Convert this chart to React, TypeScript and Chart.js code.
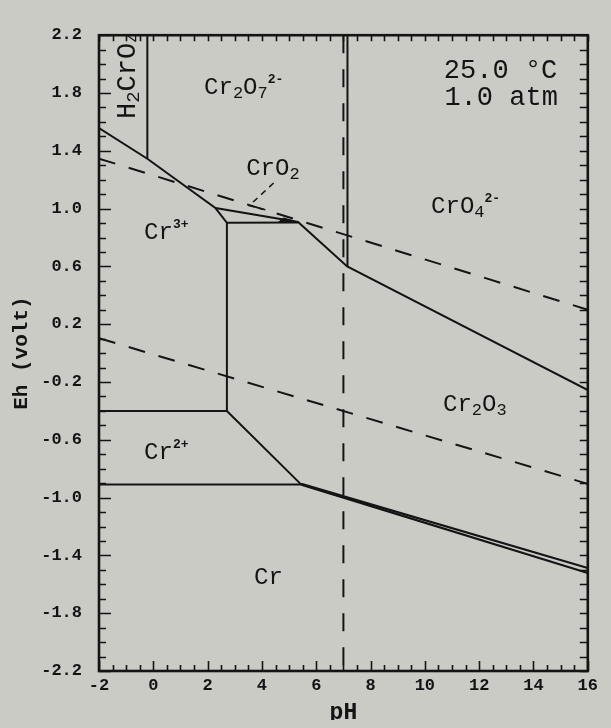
import React, { useEffect, useRef } from "react";
import { Chart, registerables } from "chart.js";

Chart.register(...registerables);

// ---------- axis ranges ----------
const PH_MIN = -2;
const PH_MAX = 16;
const PH_STEP = 2;
const EH_MIN = -2.2;
const EH_MAX = 2.2;
const EH_STEP = 0.4;

// ---------- solid stability boundaries [pH, Eh] ----------
const cr3UpperBoundary = [[-2, 1.557], [-0.22, 1.345], [2.29, 1.004], [5.33, 0.907], [7.14, 0.6], [16, -0.256]];
const h2cro4Boundary = [[-0.22, 2.2], [-0.22, 1.345]];
const cro4Boundary = [[7.15, 2.2], [7.15, 0.6]];
const cro2LowerBoundary = [[2.29, 1.004], [2.71, 0.902], [5.33, 0.904]];
const cro2Wedge = [[4.6, 0.905], [4.8, 0.935], [5.33, 0.906]];
const cr3Cr2o3Boundary = [[2.71, 0.902], [2.71, -0.401]];
const cr2UpperBoundary = [[-2, -0.401], [2.71, -0.401], [5.45, -0.91]];
const crUpperBoundary = [[-2, -0.91], [5.45, -0.91]];
const crCr2o3BoundaryA = [[5.45, -0.905], [16, -1.487]];
const crCr2o3BoundaryB = [[5.45, -0.91], [16, -1.522]];

// ---------- dashed lines [pH, Eh] ----------
const waterOxidation = [[-2, 1.346], [16, 0.3]];
const waterReduction = [[-2, 0.103], [16, -0.905]];
const neutralPH = [[7, 2.2], [7, -2.2]];
const cro2Leader = [[4.43, 1.177], [3.53, 1.02], [4.18, 0.99]];

// ---------- region labels (text segments) ----------
const regionLabels = [
  { id: "cr2o7", segs: [["Cr"], ["2", "sub"], ["O"], ["7", "sub"], ["2-", "sup"]] },
  { id: "h2cro4", segs: [["H"], ["2", "sub"], ["CrO"], ["4", "sub"]], rotate: true },
  { id: "cro2", segs: [["CrO"], ["2", "sub"]] },
  { id: "cr3", segs: [["Cr"], ["3+", "sup"]] },
  { id: "cro4", segs: [["CrO"], ["4", "sub"], ["2-", "sup"]] },
  { id: "cr2o3", segs: [["Cr"], ["2", "sub"], ["O"], ["3", "sub"]] },
  { id: "cr2", segs: [["Cr"], ["2+", "sup"]] },
  { id: "cr", segs: [["Cr"]] },
  { id: "temp", segs: [["25.0 °C"]] },
  { id: "press", segs: [["1.0 atm"]] },
];

// label anchors (pH, Eh of left end of baseline) and font sizes
const labelLayout: Record<string, { at: [number, number]; size: number }> = {
  cr2o7: { at: [1.87, 1.79], size: 24 },
  h2cro4: { at: [-0.69, 1.62], size: 27 },
  cro2: { at: [3.42, 1.233], size: 24 },
  cr3: { at: [-0.34, 0.79], size: 24 },
  cro4: { at: [10.23, 0.971], size: 24 },
  cr2o3: { at: [10.67, -0.4], size: 24 },
  cr2: { at: [-0.34, -0.735], size: 24 },
  cr: { at: [3.71, -1.601], size: 24 },
  temp: { at: [10.7, 1.905], size: 27 },
  press: { at: [10.72, 1.716], size: 27 },
};

const INK = "#141414";
const BG = "#cbcbc5";
const MONO = '"Liberation Mono", "DejaVu Sans Mono", monospace';

const toPts = (arr: number[][]) => arr.map(([x, y]) => ({ x, y }));
const solid = (arr: number[][], w = 2) => ({
  data: toPts(arr),
  borderColor: INK,
  borderWidth: w,
  pointRadius: 0,
  pointHoverRadius: 0,
  fill: false,
  tension: 0,
});
const dashed = (arr: number[][], dash: number[], w = 2) => ({ ...solid(arr, w), borderDash: dash });

function drawRich(ctx: CanvasRenderingContext2D, segs: string[][], size: number) {
  let cx = 0;
  for (const [t, kind] of segs) {
    let fs = size;
    let dy = 0;
    let weight = "normal";
    if (kind === "sub") {
      fs = Math.round(size * 0.72);
      dy = size * 0.16;
    } else if (kind === "sup") {
      fs = Math.round(size * 0.56);
      dy = -size * 0.46;
      weight = "bold";
    }
    ctx.font = `${weight} ${fs}px ${MONO}`;
    ctx.fillText(t, cx, dy);
    cx += ctx.measureText(t).width;
  }
}

const overlayPlugin = {
  id: "pourbaixOverlay",
  afterDatasetsDraw(chart: any) {
    const { ctx, chartArea: a, scales } = chart;
    const xs = scales.x;
    const ys = scales.y;
    ctx.save();
    ctx.beginPath();
    ctx.rect(a.left, a.top, a.right - a.left, a.bottom - a.top);
    ctx.clip();
    ctx.fillStyle = INK;
    ctx.textAlign = "left";
    ctx.textBaseline = "alphabetic";
    for (const lab of regionLabels) {
      const lay = labelLayout[lab.id];
      const px = xs.getPixelForValue(lay.at[0]);
      const py = ys.getPixelForValue(lay.at[1]);
      ctx.save();
      ctx.translate(px, py);
      if ((lab as any).rotate) ctx.rotate(-Math.PI / 2);
      drawRich(ctx, lab.segs, lay.size);
      ctx.restore();
    }
    ctx.restore();
  },
  afterDraw(chart: any) {
    const { ctx, chartArea: a, scales } = chart;
    const xs = scales.x;
    const ys = scales.y;
    ctx.save();
    ctx.strokeStyle = INK;
    ctx.lineWidth = 1.6;
    ctx.beginPath();
    // pH ticks every 0.5
    const nx = Math.round((PH_MAX - PH_MIN) / 0.5);
    for (let i = 0; i <= nx; i++) {
      const v = PH_MIN + i * 0.5;
      const px = Math.round(xs.getPixelForValue(v)) + 0.5;
      const major = i % 4 === 0;
      ctx.moveTo(px, a.bottom);
      ctx.lineTo(px, a.bottom - (major ? 10 : 6));
      ctx.moveTo(px, a.top);
      ctx.lineTo(px, a.top + 6);
    }
    // Eh ticks every 0.1
    const ny = Math.round((EH_MAX - EH_MIN) / 0.1);
    for (let i = 0; i <= ny; i++) {
      const v = EH_MIN + i * 0.1;
      const py = Math.round(ys.getPixelForValue(v)) + 0.5;
      const major = i % 4 === 0;
      ctx.moveTo(a.left, py);
      ctx.lineTo(a.left + (major ? 12 : 7), py);
      ctx.moveTo(a.right, py);
      ctx.lineTo(a.right - 8, py);
    }
    ctx.stroke();
    ctx.lineWidth = 2.6;
    ctx.strokeRect(a.left, a.top, a.right - a.left, a.bottom - a.top);
    ctx.restore();
  },
};

export default function App() {
  const ref = useRef<HTMLCanvasElement>(null);
  useEffect(() => {
    document.body.style.background = BG;
    const chart = new Chart(ref.current as HTMLCanvasElement, {
      type: "line",
      data: {
        datasets: [
          { ...solid(cro2Wedge, 1), backgroundColor: INK, fill: "shape" },
          solid(cr3UpperBoundary),
          solid(h2cro4Boundary),
          solid(cro4Boundary),
          solid(cro2LowerBoundary),
          solid(cr3Cr2o3Boundary),
          solid(cr2UpperBoundary),
          solid(crUpperBoundary),
          solid(crCr2o3BoundaryA, 2.2),
          solid(crCr2o3BoundaryB, 2.2),
          dashed(waterOxidation, [17, 14]),
          dashed(waterReduction, [17, 14]),
          dashed(neutralPH, [18, 16]),
          dashed(cro2Leader, [6, 5], 1.5),
        ] as any,
      },
      options: {
        responsive: false,
        devicePixelRatio: 1,
        animation: false,
        events: [],
        layout: { padding: { top: 8, right: 8, left: 0, bottom: 0 } },
        plugins: { legend: { display: false }, tooltip: { enabled: false } },
        scales: {
          x: {
            type: "linear",
            min: PH_MIN,
            max: PH_MAX,
            grid: { display: false, drawTicks: false },
            border: { display: false },
            ticks: {
              stepSize: PH_STEP,
              color: INK,
              padding: 5,
              font: { family: MONO, size: 17, weight: "bold" },
              callback: (v: any) => String(Math.round(Number(v))),
            },
            title: {
              display: true,
              text: "pH",
              color: INK,
              padding: 0,
              font: { family: MONO, size: 23, weight: "bold", lineHeight: "14px" },
            },
            afterFit: (s: any) => {
              s.height = 49;
            },
          },
          y: {
            type: "linear",
            min: EH_MIN,
            max: EH_MAX,
            grid: { display: false, drawTicks: false },
            border: { display: false },
            ticks: {
              stepSize: EH_STEP,
              color: INK,
              padding: 17,
              font: { family: MONO, size: 17, weight: "bold" },
              callback: (v: any) => Number(v).toFixed(1),
            },
            title: {
              display: true,
              text: "Eh (volt)",
              color: INK,
              padding: { top: 3, bottom: 0 },
              font: { family: MONO, size: 21, weight: "bold", lineHeight: "22px" },
            },
            afterFit: (s: any) => {
              s.width = 91;
            },
          },
        },
      } as any,
      plugins: [overlayPlugin],
    });
    return () => chart.destroy();
  }, []);
  return (
    <div style={{ width: 595, height: 712 }}>
      <canvas ref={ref} width={595} height={712} style={{ display: "block" }} />
    </div>
  );
}
